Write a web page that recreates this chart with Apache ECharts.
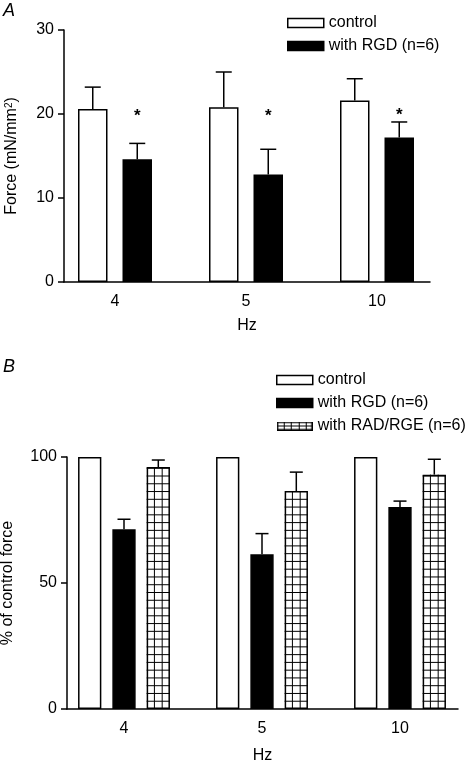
<!DOCTYPE html>
<html>
<head>
<meta charset="utf-8">
<script src="https://cdn.jsdelivr.net/npm/echarts@6/dist/echarts.min.js"></script>
<style>
html,body{margin:0;padding:0;background:#fff;}
#chart{width:472px;height:760px;}
</style>
</head>
<body>
<div id="chart"></div>
<script>
// ---------- data ----------
const categories = ['4', '5', '10'];
const xPositions = [1, 2, 3];

// Panel A: Force (mN/mm2)
const aControl = [20.6, 20.8, 21.6];
const aControlSem = [2.6, 4.2, 2.6];
const aRgd = [14.6, 12.8, 17.2];
const aRgdSem = [1.9, 3.0, 1.85];
const aSigMarks = ['*', '*', '*'];
const aSigLevel = [20.2, 20.2, 20.3];

// Panel B: % of control force
const bControl = [100, 100, 100];
const bRgd = [71.3, 61.4, 80.2];
const bRgdSem = [4.0, 8.2, 2.3];
const bRad = [96.0, 86.5, 93.0];
const bRadSem = [2.8, 7.5, 6.1];

const legendA = ['control', 'with RGD (n=6)'];
const legendB = ['control', 'with RGD (n=6)', 'with RAD/RGE (n=6)'];

// ---------- styling constants ----------
const FONT = 'Liberation Sans, Arial, Helvetica, sans-serif';
const LW = 1.5;
const A_BAR_W = 29.5, A_GAP = 15;
const B_BAR_W = 23.3, B_GAP = 11;

function pairs(vals) { return xPositions.map((x, i) => [x, vals[i]]); }
function triples(vals, sem) { return xPositions.map((x, i) => [x, vals[i], sem[i]]); }

function errorSeries(name, xi, yi, vals, sem, idx, n, barW, gap, cap) {
  const offset = (idx - (n - 1) / 2) * (barW + gap);
  return {
    type: 'custom', name: name + '_err', xAxisIndex: xi, yAxisIndex: yi, z: 5,
    silent: true,
    encode: { x: 0, y: 1 },
    data: triples(vals, sem),
    renderItem: function (params, api) {
      const x = api.value(0), m = api.value(1), s = api.value(2);
      const p0 = api.coord([x, m]);
      const p1 = api.coord([x, m + s]);
      const cx = p0[0] + offset;
      return {
        type: 'group', children: [
          { type: 'line', shape: { x1: cx, y1: p0[1], x2: cx, y2: p1[1] }, style: { stroke: '#000', lineWidth: LW } },
          { type: 'line', shape: { x1: cx - cap / 2, y1: p1[1], x2: cx + cap / 2, y2: p1[1] }, style: { stroke: '#000', lineWidth: LW } }
        ]
      };
    }
  };
}

function hatchSeries(xi, yi, vals, idx, n, barW, gap) {
  const offset = (idx - (n - 1) / 2) * (barW + gap);
  return {
    type: 'custom', name: 'hatch', xAxisIndex: xi, yAxisIndex: yi, z: 4,
    silent: true,
    encode: { x: 0, y: 1 },
    data: pairs(vals),
    renderItem: function (params, api) {
      const x = api.value(0), v = api.value(1);
      const pTop = api.coord([x, v]);
      const pBot = api.coord([x, 0]);
      const cx = pTop[0] + offset;
      const left = cx - barW / 2;
      const cell = barW / 3;
      const children = [];
      for (let k = 1; k < 3; k++) {
        const xx = left + k * cell;
        children.push({ type: 'line', shape: { x1: xx, y1: pTop[1], x2: xx, y2: pBot[1] }, style: { stroke: '#000', lineWidth: 1 } });
      }
      for (let yy = pBot[1] - cell; yy > pTop[1] + 1; yy -= cell) {
        children.push({ type: 'line', shape: { x1: left, y1: yy, x2: left + barW, y2: yy }, style: { stroke: '#000', lineWidth: 1 } });
      }
      return { type: 'group', children: children };
    }
  };
}

function sigSeries(xi, yi, marks, levels, idx, n, barW, gap) {
  const offset = (idx - (n - 1) / 2) * (barW + gap);
  return {
    type: 'custom', name: 'sig', xAxisIndex: xi, yAxisIndex: yi, z: 6,
    silent: true,
    encode: { x: 0, y: 1 },
    data: pairs(levels),
    renderItem: function (params, api) {
      const p = api.coord([api.value(0), api.value(1)]);
      return {
        type: 'text', x: p[0] + offset, y: p[1] + 4,
        style: { text: marks[params.dataIndex], font: 'bold 17px ' + FONT, fill: '#000', align: 'center', verticalAlign: 'middle' }
      };
    }
  };
}

// hatched legend icon
function hatchIcon() {
  const c = document.createElement('canvas');
  c.width = 36; c.height = 9;
  const g = c.getContext('2d');
  g.fillStyle = '#fff'; g.fillRect(0, 0, 36, 9);
  g.strokeStyle = '#000'; g.lineWidth = 1;
  g.beginPath();
  for (let k = 1; k < 5; k++) { const xx = Math.round(k * 7.2) + 0.5; g.moveTo(xx, 0); g.lineTo(xx, 9); }
  g.moveTo(0, 4.5); g.lineTo(36, 4.5);
  g.stroke();
  g.lineWidth = 1.5;
  g.strokeRect(0.75, 0.75, 34.5, 7.5);
  return 'image://' + c.toDataURL();
}

const axisLineStyle = { color: '#000', width: LW };
const labelStyle = { color: '#000', fontSize: 16, fontFamily: FONT };

function xAxisCfg(gi, min, max, nameGap) {
  return {
    type: 'value', gridIndex: gi, min: min, max: max,
    axisLine: { show: true, lineStyle: axisLineStyle },
    axisTick: { show: false },
    splitLine: { show: false },
    axisLabel: Object.assign({ customValues: xPositions, formatter: v => categories[Math.round(v) - 1], margin: 12 }, labelStyle),
    name: 'Hz', nameLocation: 'middle', nameGap: nameGap,
    nameTextStyle: labelStyle
  };
}

function yAxisCfg(gi, max, interval, name, nameGap, rich) {
  return {
    type: 'value', gridIndex: gi, min: 0, max: max, interval: interval,
    axisLine: { show: true, lineStyle: axisLineStyle },
    axisTick: { show: true, length: 6, lineStyle: axisLineStyle },
    splitLine: { show: false },
    axisLabel: Object.assign({ margin: 10 }, labelStyle),
    name: name, nameLocation: 'middle', nameRotate: 90, nameGap: nameGap,
    nameTextStyle: Object.assign({ rich: rich || {} }, labelStyle)
  };
}

const barBase = { type: 'bar', silent: true };
const whiteStyle = { color: '#fff', borderColor: '#000', borderWidth: LW };
const blackStyle = { color: '#000', borderColor: '#000', borderWidth: LW };

const option = {
  animation: false,
  backgroundColor: '#fff',
  textStyle: { fontFamily: FONT },
  graphic: [
    { type: 'text', left: 3, top: 2, style: { text: 'A', font: 'italic 18px ' + FONT, fill: '#000' } },
    { type: 'text', left: 3, top: 358, style: { text: 'B', font: 'italic 18px ' + FONT, fill: '#000' } }
  ],
  grid: [
    { left: 64, right: 42, top: 30, bottom: 478, containLabel: false, outerBoundsMode: 'none' },
    { left: 67, right: 14, top: 457, bottom: 51, containLabel: false, outerBoundsMode: 'none' }
  ],
  xAxis: [
    xAxisCfg(0, 1 - 51 / 131, 3 + 53 / 131, 36),
    xAxisCfg(1, 1 - 57 / 138, 3 + 58 / 138, 39)
  ],
  yAxis: [
    yAxisCfg(0, 30, 10, 'Force (mN/mm{sup|2})', 44, { sup: { fontSize: 10, fontFamily: FONT, color: '#000', verticalAlign: 'top', lineHeight: 10 } }),
    yAxisCfg(1, 100, 50, '% of control force', 51)
  ],
  legend: [
    {
      left: 287, top: 15, orient: 'vertical', padding: 0, itemGap: 7,
      itemWidth: 36, itemHeight: 9,
      textStyle: labelStyle,
      data: [
        { name: legendA[0], icon: 'rect', itemStyle: whiteStyle },
        { name: legendA[1], icon: 'rect', itemStyle: blackStyle }
      ]
    },
    {
      left: 276, top: 372, orient: 'vertical', padding: 0, itemGap: 7,
      itemWidth: 36, itemHeight: 9,
      textStyle: labelStyle,
      data: [
        { name: legendB[0] + ' ', icon: 'rect', itemStyle: whiteStyle },
        { name: legendB[1] + ' ', icon: 'rect', itemStyle: blackStyle },
        { name: legendB[2], icon: hatchIcon() }
      ]
    }
  ],
  series: [
    Object.assign({}, barBase, { name: legendA[0], xAxisIndex: 0, yAxisIndex: 0, barWidth: A_BAR_W, barGap: (A_GAP / A_BAR_W * 100) + '%', itemStyle: whiteStyle, data: pairs(aControl) }),
    Object.assign({}, barBase, { name: legendA[1], xAxisIndex: 0, yAxisIndex: 0, barWidth: A_BAR_W, barGap: (A_GAP / A_BAR_W * 100) + '%', itemStyle: blackStyle, data: pairs(aRgd) }),
    errorSeries('aC', 0, 0, aControl, aControlSem, 0, 2, A_BAR_W, A_GAP, 16),
    errorSeries('aR', 0, 0, aRgd, aRgdSem, 1, 2, A_BAR_W, A_GAP, 16),
    sigSeries(0, 0, aSigMarks, aSigLevel, 1, 2, A_BAR_W, A_GAP),

    Object.assign({}, barBase, { name: legendB[0] + ' ', xAxisIndex: 1, yAxisIndex: 1, barWidth: B_BAR_W, barGap: (B_GAP / B_BAR_W * 100) + '%', itemStyle: whiteStyle, data: pairs(bControl) }),
    Object.assign({}, barBase, { name: legendB[1] + ' ', xAxisIndex: 1, yAxisIndex: 1, barWidth: B_BAR_W, barGap: (B_GAP / B_BAR_W * 100) + '%', itemStyle: blackStyle, data: pairs(bRgd) }),
    Object.assign({}, barBase, { name: legendB[2], xAxisIndex: 1, yAxisIndex: 1, barWidth: B_BAR_W, barGap: (B_GAP / B_BAR_W * 100) + '%', itemStyle: whiteStyle, data: pairs(bRad) }),
    hatchSeries(1, 1, bRad, 2, 3, B_BAR_W, B_GAP),
    errorSeries('bR', 1, 1, bRgd, bRgdSem, 1, 3, B_BAR_W, B_GAP, 13),
    errorSeries('bD', 1, 1, bRad, bRadSem, 2, 3, B_BAR_W, B_GAP, 13)
  ]
};

const chart = echarts.init(document.getElementById('chart'), null, { renderer: 'canvas' });
chart.setOption(option);
</script>
</body>
</html>
